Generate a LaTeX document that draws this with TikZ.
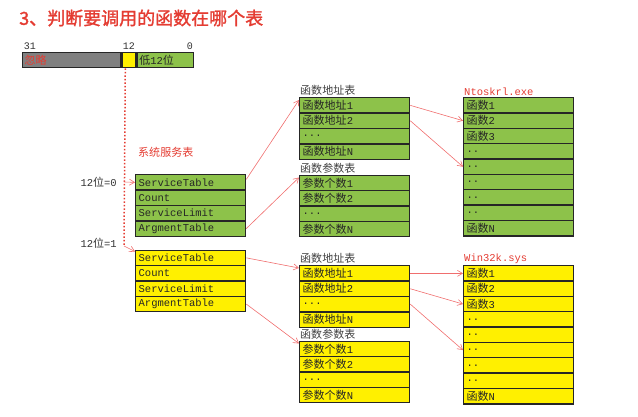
\documentclass[tikz,border=0pt]{standalone}
\usepackage{fontspec}
\setmainfont{Liberation Mono}
\newfontfamily\cjk{Noto Sans CJK SC}[Scale=1.05]
\newfontfamily\titlefont{Noto Sans CJK SC}[FakeBold=1.5]
\usetikzlibrary{arrows.meta}

\definecolor{tblgreen}{RGB}{141,194,74}
\definecolor{tblyellow}{RGB}{255,240,0}
\definecolor{bitgray}{RGB}{128,128,128}
\definecolor{titlered}{RGB}{228,60,50}
\definecolor{linkred}{RGB}{240,110,110}

\newcommand{\zh}[1]{{\cjk #1}}
\newcommand{\threedots}{...}
\newcommand{\twodots}{..}

\begin{document}
\begin{tikzpicture}[
    x=1pt, y=1pt,
    cell/.style={draw=black!85, line width=1.3pt, anchor=north west, minimum height=15.4pt,
        text width=104pt, inner xsep=3pt, inner ysep=0pt, align=left,
        font=\fontsize{10.5}{10.5}\selectfont, text=black!85},
    bitbox/.style={draw=black!85, line width=1.3pt, anchor=north west, minimum height=15pt,
        inner xsep=2pt, inner ysep=0pt, align=left, font=\fontsize{10.5}{10.5}\selectfont},
    tbllabel/.style={anchor=south west, inner sep=1pt, font=\fontsize{10.5}{10.5}\selectfont, text=black!75},
    redlabel/.style={tbllabel, text=titlered},
    bitnum/.style={anchor=south, inner sep=1pt, font=\fontsize{10}{10}\selectfont, text=black!80},
    link/.style={draw=linkred, line width=0.6pt, -{Straight Barb[length=5pt,width=6pt]}}
]
    \path[use as bounding box] (0,0) rectangle (638,-416);

    % title
    \node[anchor=west, inner sep=0pt, font=\titlefont\fontsize{18}{18}\selectfont, text=titlered]
        (title) at (19,-18) {3、判断要调用的函数在哪个表};

    % 32-bit index
    \node[bitbox, fill=bitgray, text width=94pt, text=titlered] (ignore) at (22,-52) {\zh{忽略}};
    \node[bitbox, fill=tblyellow, minimum width=14pt, inner xsep=0pt] (bit12) at (ignore.north east) {};
    \node[bitbox, fill=tblgreen, text width=52pt, text=black!85] (low) at (bit12.north east) {\zh{低}12\zh{位}};
    \node[bitnum] (n31) at ([xshift=8pt,yshift=1pt]ignore.north west) {31};
    \node[bitnum] (n12) at ([yshift=1pt]bit12.north) {12};
    \node[bitnum] (n0) at ([xshift=-4pt,yshift=1pt]low.north east) {0};

    % selector
    \coordinate (tap0) at (124,-182);
    \coordinate (tap1) at (124,-246);
    \draw[titlered, line width=1.5pt, dash pattern=on 1.5pt off 2pt] ([xshift=4pt]bit12.south west) -- (tap1);
    \node[anchor=east, inner sep=1pt, font=\fontsize{10.5}{10.5}\selectfont, text=black!80] (sel0) at (118,-182) {12\zh{位}=0};
    \node[anchor=east, inner sep=1pt, font=\fontsize{10.5}{10.5}\selectfont, text=black!80] (sel1) at (118,-243) {12\zh{位}=1};
    \node[anchor=west, inner sep=1pt, font=\cjk\fontsize{10.5}{10.5}\selectfont, text=titlered] (sstlbl) at (137,-152) {系统服务表};

    % service tables
    \foreach \t [count=\i] in {ServiceTable,Count,ServiceLimit,ArgmentTable}
        \node[cell, fill=tblgreen] (gs\i) at (135,{-174-(\i-1)*15.4}) {\t};
    \foreach \t [count=\i] in {ServiceTable,Count,ServiceLimit,ArgmentTable}
        \node[cell, fill=tblyellow] (ys\i) at (135,{-249.5-(\i-1)*15.4}) {\t};

    % address and argument tables
    \foreach \t [count=\i] in {\zh{函数地址}1,\zh{函数地址}2,\threedots,\zh{函数地址}N}
        \node[cell, fill=tblgreen] (ga\i) at (299,{-97-(\i-1)*15.4}) {\t};
    \foreach \t [count=\i] in {\zh{参数个数}1,\zh{参数个数}2,\threedots,\zh{参数个数}N}
        \node[cell, fill=tblgreen] (gp\i) at (299,{-174.5-(\i-1)*15.4}) {\t};
    \foreach \t [count=\i] in {\zh{函数地址}1,\zh{函数地址}2,\threedots,\zh{函数地址}N}
        \node[cell, fill=tblyellow] (ya\i) at (299,{-265-(\i-1)*15.4}) {\t};
    \foreach \t [count=\i] in {\zh{参数个数}1,\zh{参数个数}2,\threedots,\zh{参数个数}N}
        \node[cell, fill=tblyellow] (yp\i) at (299,{-340.5-(\i-1)*15.4}) {\t};
    \node[tbllabel] (galbl) at (ga1.north west) {\zh{函数地址表}};
    \node[tbllabel] (gplbl) at (gp1.north west) {\zh{函数参数表}};
    \node[tbllabel] (yalbl) at (ya1.north west) {\zh{函数地址表}};
    \node[tbllabel] (yplbl) at (yp1.north west) {\zh{函数参数表}};

    % function tables
    \foreach \t [count=\i] in {\zh{函数}1,\zh{函数}2,\zh{函数}3,\twodots,\twodots,\twodots,\twodots,\twodots,\zh{函数}N}
        \node[cell, fill=tblgreen] (gf\i) at (463,{-97-(\i-1)*15.35}) {\t};
    \foreach \t [count=\i] in {\zh{函数}1,\zh{函数}2,\zh{函数}3,\twodots,\twodots,\twodots,\twodots,\twodots,\zh{函数}N}
        \node[cell, fill=tblyellow] (yf\i) at (463,{-265-(\i-1)*15.35}) {\t};
    \node[redlabel] (gflbl) at (gf1.north west) {Ntoskrl.exe};
    \node[redlabel] (yflbl) at (yf1.north west) {Win32k.sys};

    % links
    \draw[link] (tap0) -- (gs1.west);
    \draw[link] (tap1) -- ([yshift=-2pt]ys1.north west);
    \draw[link] ([yshift=3pt]gs1.east) -- ([yshift=-3pt]ga1.north west);
    \draw[link] (gs4.east) -- ([yshift=-3pt]gp1.north west);
    \draw[link] (ga1.east) -- (gf2.west);
    \draw[link] (ga2.east) -- (gf5.west);
    \draw[link] (ys1.east) -- ([yshift=-3pt]ya1.north west);
    \draw[link] (ys4.east) -- ([yshift=-3pt]yp1.north west);
    \draw[link] (ya1.east) -- (yf1.west);
    \draw[link] (ya2.east) -- (yf3.west);
    \draw[link] (ya3.east) -- (yf6.west);
\end{tikzpicture}
\end{document}
